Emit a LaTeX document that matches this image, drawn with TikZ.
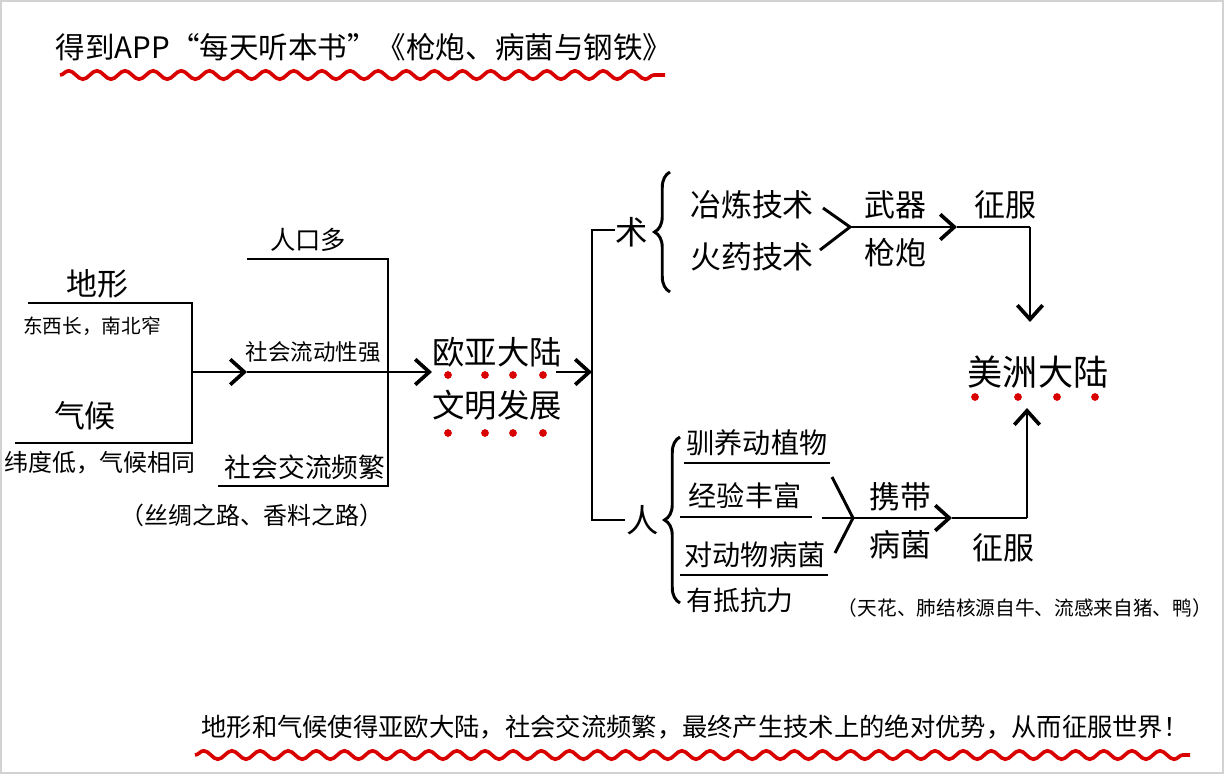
\documentclass[tikz,border=0pt]{standalone}
\usepackage{fontspec}
\setmainfont{Noto Sans CJK SC}
\usetikzlibrary{positioning}
\usetikzlibrary{arrows.meta}
\usetikzlibrary{decorations.pathmorphing}
\usetikzlibrary{decorations.pathreplacing}

\tikzset{
  bigtxt/.style={inner sep=0pt, font=\fontsize{22}{24}\selectfont},
  midtxt/.style={inner sep=0pt, font=\fontsize{19}{21}\selectfont},
  smalltxt/.style={inner sep=0pt, font=\fontsize{14}{16}\selectfont},
  bar/.style={line width=2.1pt},
  arr/.style={line width=2.1pt, -{Straight Barb[length=10pt,width=18pt,line width=2.6pt]}},
  wave/.style={red!85!black, line width=2.6pt, decorate,
    decoration={snake, amplitude=3pt, segment length=20pt}},
  reddot/.style={circle, fill=red!85!black, inner sep=0pt, minimum size=5.5pt},
  curly/.style={line width=2.1pt, decorate, decoration={brace, amplitude=11pt}},
}

\begin{document}
\begin{tikzpicture}[x=0.025cm, y=-0.025cm]
    \useasboundingbox (0,0) rectangle (1224,774);
    \draw[gray!35, line width=0.8pt] (1,1) rectangle (1223,773);

    % title
    \node[bigtxt, font=\fontsize{21}{23}\selectfont] (title) at (364,47) {得到APP“每天听本书”《枪炮、病菌与钢铁》};
    \coordinate (tw1) at (60,75);
    \coordinate (tw2) at (665,75);
    \draw[wave] (tw1) -- (tw2);

    % left: terrain and climate
    \node[bigtxt] (dixing) at (97,284) {地形};
    \node[smalltxt] (dixingtxt) at (92,326) {东西长，南北窄};
    \node[bigtxt] (qihou) at (85,416) {气候};
    \node[midtxt, font=\fontsize{17}{19}\selectfont] (qihoutxt) at (100,463) {纬度低，气候相同};

    \coordinate (dx-l) at (28,303);
    \coordinate (dx-r) at (192,303);
    \coordinate (qh-l) at (15,443);
    \coordinate (qh-r) at (192,443);
    \coordinate (mid1) at (192,372);
    \coordinate (mid1e) at (247,372);
    \draw[bar] (dx-l) -- (dx-r) -- (qh-r) -- (qh-l);
    \draw[arr] (mid1) -- (mid1e);

    % middle: society
    \node[midtxt, font=\fontsize{18}{20}\selectfont] (renkou) at (308,240) {人口多};
    \node[midtxt, font=\fontsize{16}{18}\selectfont] (liudong) at (313,352) {社会流动性强};
    \node[midtxt] (jiaoliu) at (305,467) {社会交流频繁};
    \node[midtxt, font=\fontsize{17}{19}\selectfont] (silu) at (252,515) {（丝绸之路、香料之路）};

    \coordinate (rk-l) at (247,259);
    \coordinate (rk-r) at (388,259);
    \coordinate (ld-r) at (388,372);
    \coordinate (jl-l) at (218,486);
    \coordinate (jl-r) at (388,486);
    \draw[bar] (rk-l) -- (rk-r) -- (jl-r) -- (jl-l);
    \draw[bar] (mid1e) -- (ld-r);

    % eurasia
    \node[bigtxt, font=\fontsize{23}{25}\selectfont] (ouya) at (497,352) {欧亚大陆};
    \node[bigtxt, font=\fontsize{23}{25}\selectfont] (wenming) at (497,405) {文明发展};
    \coordinate (oy-in) at (432,372);
    \coordinate (oy-out) at (556,372);
    \coordinate (split) at (592,372);
    \draw[arr] (ld-r) -- (oy-in);
    \draw[arr] (oy-out) -- (split);
    \foreach \px in {448,485,513,543} {
        \node[reddot] (d1-\px) at (\px,375) {};
        \node[reddot] (d2-\px) at (\px,433) {};
    }

    % split into two branches
    \coordinate (sp-t) at (592,230);
    \coordinate (sp-b) at (592,520);
    \coordinate (sp-te) at (615,230);
    \coordinate (sp-be) at (625,520);
    \draw[bar] (sp-te) -- (sp-t) -- (sp-b) -- (sp-be);

    % upper branch: technology
    \node[bigtxt, font=\fontsize{23}{25}\selectfont] (shu) at (632,232) {术};
    \coordinate (br1-b) at (670,292);
    \coordinate (br1-t) at (670,172);
    \draw[curly] (br1-b) -- (br1-t);
    \node[bigtxt] (yelian) at (752,205) {冶炼技术};
    \node[bigtxt] (huoyao) at (752,257) {火药技术};

    \coordinate (v1-a) at (823,208);
    \coordinate (v1) at (850,227);
    \coordinate (v1-b) at (820,250);
    \coordinate (v1-arr) at (957,227);
    \coordinate (v1-c) at (1030,227);
    \draw[bar] (v1-a) -- (v1) -- (v1-b);
    \draw[arr] (v1) -- (v1-arr);
    \node[bigtxt] (wuqi) at (895,205) {武器};
    \node[bigtxt] (qiangpao) at (895,253) {枪炮};
    \node[bigtxt] (zhengfu1) at (1005,205) {征服};

    % america
    \node[bigtxt, font=\fontsize{25}{27}\selectfont] (meizhou) at (1038,372) {美洲大陆};
    \foreach \px in {975,1018,1057,1095} {
        \node[reddot] (d3-\px) at (\px,397) {};
    }
    \coordinate (mz-t) at (1030,322);
    \coordinate (mz-b) at (1027,408);
    \draw[bar] (v1-arr) -- (v1-c);
    \draw[arr] (v1-c) -- (mz-t);

    % lower branch: people
    \node[bigtxt, font=\fontsize{23}{25}\selectfont] (ren) at (643,520) {人};
    \coordinate (br2-b) at (680,603);
    \coordinate (br2-t) at (680,437);
    \draw[curly] (br2-b) -- (br2-t);
    \node[midtxt, font=\fontsize{20}{22}\selectfont] (xunyang) at (757,443) {驯养动植物};
    \node[midtxt, font=\fontsize{20}{22}\selectfont] (jingyan) at (745,496) {经验丰富};
    \node[midtxt, font=\fontsize{20}{22}\selectfont] (dongwu) at (755,555) {对动物病菌};
    \node[midtxt] (dikang) at (740,600) {有抵抗力};
    \draw[bar] (684,463) -- (830,463);
    \draw[bar] (680,517) -- (812,517);
    \draw[bar] (680,575) -- (828,575);

    \coordinate (v2-a) at (832,477);
    \coordinate (v2) at (853,518);
    \coordinate (v2-b) at (835,553);
    \coordinate (v2-in) at (822,518);
    \coordinate (v2-arr) at (952,518);
    \coordinate (v2-c) at (1027,518);
    \draw[bar] (v2-a) -- (v2) -- (v2-b);
    \draw[bar] (v2-in) -- (v2);
    \draw[arr] (v2) -- (v2-arr);
    \draw[bar] (v2-arr) -- (v2-c);
    \draw[arr] (v2-c) -- (mz-b);
    \node[bigtxt] (xiedai) at (900,497) {携带};
    \node[bigtxt] (bingjun) at (900,545) {病菌};
    \node[bigtxt] (zhengfu2) at (1003,548) {征服};
    \node[smalltxt] (jibing) at (1025,608) {（天花、肺结核源自牛、流感来自猪、鸭）};

    % conclusion
    \node[midtxt, font=\fontsize{18}{20}\selectfont] (summary) at (695,727)
        {地形和气候使得亚欧大陆，社会交流频繁，最终产生技术上的绝对优势，从而征服世界！};
    \coordinate (sw1) at (195,755);
    \coordinate (sw2) at (1190,755);
    \draw[wave] (sw1) -- (sw2);
\end{tikzpicture}
\end{document}
